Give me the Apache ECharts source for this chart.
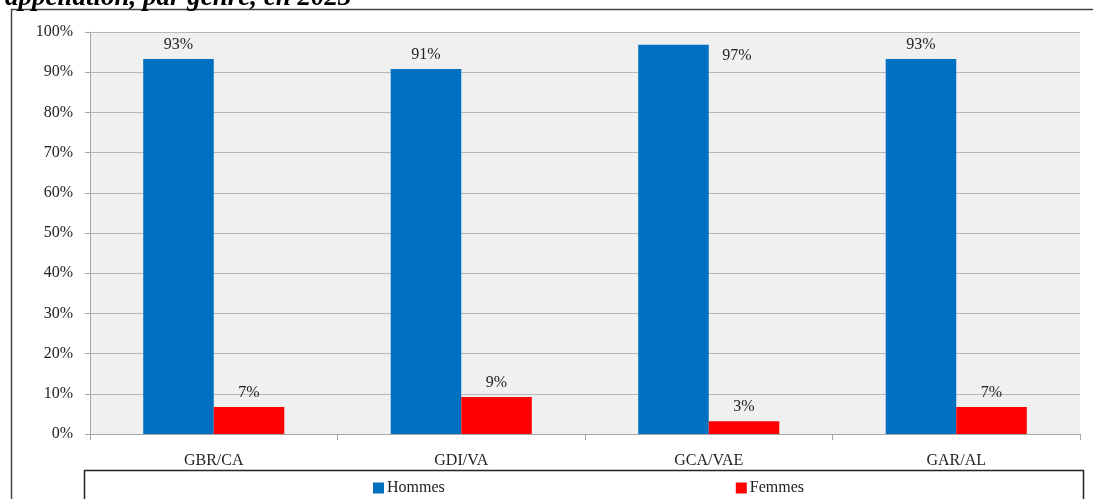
<!DOCTYPE html>
<html><head><meta charset="utf-8">
<script src="https://cdn.jsdelivr.net/npm/echarts@6/dist/echarts.min.js"></script>
<style>html,body{margin:0;padding:0;background:#fff}#c{width:1093px;height:499px}</style>
</head><body><div id="c"></div>
<script>
const categories = ['GBR/CA', 'GDI/VA', 'GCA/VAE', 'GAR/AL'];
const hommes = [93.3, 90.8, 96.8, 93.3];
const femmes = [6.7, 9.2, 3.2, 6.7];
const titleText = 'appellation, par genre, en 2023';
const FONT = '"Liberation Serif", "DejaVu Serif", serif';

const chart = echarts.init(document.getElementById('c'), null, {renderer: 'canvas'});
const lbl = {show: true, position: 'top', distance: 6, fontFamily: FONT, fontSize: 16, color: '#222',
  formatter: p => Math.round(p.value) + '%'};
chart.setOption({
  animation: false,
  backgroundColor: '#fff',
  graphic: [
    {type: 'rect', shape: {x: 11.5, y: 9.5, width: 1200, height: 600}, style: {fill: 'none', stroke: '#444', lineWidth: 1.5}, z: 0},
    {type: 'rect', shape: {x: 84.5, y: 470.5, width: 999, height: 100}, style: {fill: '#fff', stroke: '#222', lineWidth: 1.5}, z: 0},
    {type: 'text', left: 5, top: -15, style: {text: titleText, font: 'italic bold 27px ' + FONT, fill: '#000'}, z: 10}
  ],
  grid: {left: 90, right: 13, top: 32, bottom: 65, show: true, backgroundColor: '#f0f0f0', borderWidth: 0},
  legend: {
    left: 368, top: 475, itemWidth: 11, itemHeight: 11, itemGap: 291, itemStyle: {borderWidth: 0}, icon: 'rect',
    textStyle: {fontFamily: FONT, fontSize: 16, color: '#222', padding: [0, 0, 0, -2]},
    data: ['Hommes', 'Femmes'], z: 5
  },
  xAxis: {
    type: 'category', data: categories,
    axisLine: {lineStyle: {color: '#a6a6a6', width: 1}},
    axisTick: {show: true, length: 6, lineStyle: {color: '#a6a6a6'}},
    axisLabel: {fontFamily: FONT, fontSize: 16, color: '#222', margin: 19}
  },
  yAxis: {
    type: 'value', min: 0, max: 100, interval: 10,
    axisLine: {show: true, lineStyle: {color: '#a6a6a6'}},
    axisTick: {show: true, length: 5, lineStyle: {color: '#a6a6a6'}},
    splitLine: {lineStyle: {color: '#b8b8b8', width: 1}},
    axisLabel: {fontFamily: FONT, fontSize: 16, color: '#222', margin: 17, formatter: v => v + '%'}
  },
  series: [
    {name: 'Hommes', type: 'bar', data: hommes.map((v, i) => i === 2 ? {value: v, label: {position: [84, 3]}} : v),
     itemStyle: {color: '#0070C0'}, barGap: '0%', barCategoryGap: '43%', label: lbl},
    {name: 'Femmes', type: 'bar', data: femmes, itemStyle: {color: '#FF0000'}, label: lbl}
  ]
});
</script></body></html>
